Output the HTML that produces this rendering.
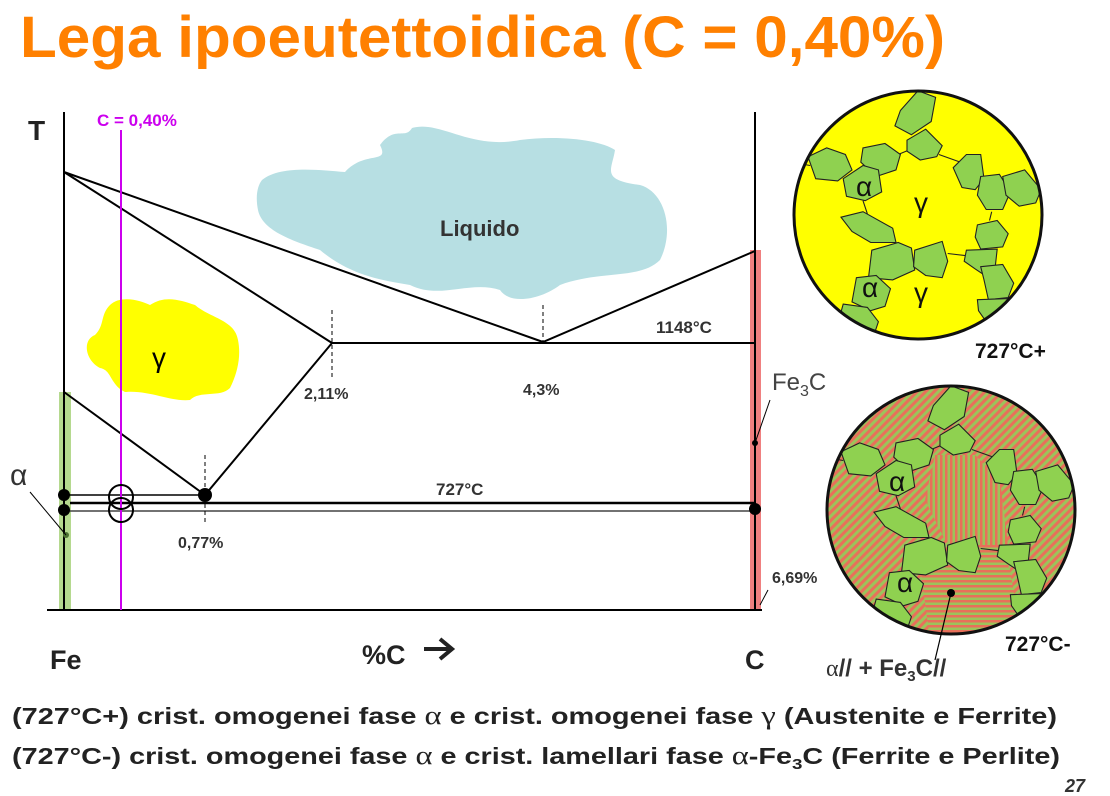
<!DOCTYPE html>
<html><head><meta charset="utf-8"><style>
html,body{margin:0;padding:0;background:#fff}
svg{display:block}
text{font-family:"Liberation Sans",sans-serif}
</style></head><body>
<svg width="1110" height="796" viewBox="0 0 1110 796">
<defs>
<pattern id="diag" width="6" height="6" patternUnits="userSpaceOnUse" patternTransform="rotate(45)">
<rect width="6" height="6" fill="#9cc35a"/><rect width="3" height="6" fill="#e8705a"/></pattern>
<pattern id="vert" width="5" height="5" patternUnits="userSpaceOnUse">
<rect width="5" height="5" fill="#9cc35a"/><rect width="2.5" height="5" fill="#e8705a"/></pattern>
<pattern id="hor" width="5" height="5" patternUnits="userSpaceOnUse">
<rect width="5" height="5" fill="#9cc35a"/><rect width="5" height="2.5" fill="#e8705a"/></pattern>
<clipPath id="cbot"><circle cx="951" cy="510" r="124"/></clipPath>
<clipPath id="ctop"><circle cx="918" cy="215" r="124"/></clipPath>
<g id="grains0" stroke="#222" stroke-width="1" fill="#8fd150">
<line x1="918" y1="85" x2="917" y2="110"/><line x1="790" y1="163" x2="820" y2="168"/>
<line x1="1048" y1="182" x2="1025" y2="186"/><line x1="937" y1="158" x2="965" y2="168"/>
<line x1="900" y1="158" x2="912" y2="153"/><line x1="868" y1="200" x2="872" y2="212"/>
<line x1="945" y1="248" x2="962" y2="250"/><line x1="985" y1="210" x2="983" y2="218"/>
<polygon points="902,118 918,100 934,106 930,128 912,140 897,132"/>
<polygon points="908,145 925,135 940,150 935,160 920,163 908,155"/>
<polygon points="818,160 835,152 852,158 858,172 845,182 825,180"/>
<polygon points="868,152 888,148 902,158 898,172 880,178 866,165"/>
<polygon points="850,180 868,168 882,172 885,192 870,200 853,196"/>
<polygon points="848,215 868,210 895,225 898,238 875,238 858,228"/>
<polygon points="950,170 962,158 975,158 978,180 970,190 958,188"/>
<polygon points="975,178 992,176 1002,192 995,208 980,208 972,195"/>
<polygon points="995,178 1015,172 1030,190 1025,202 1010,205 998,195"/>
<polygon points="972,222 990,218 1000,230 995,242 975,244 970,233"/>
<polygon points="962,245 990,244 988,262 982,270 970,262 960,255"/>
<polygon points="975,260 995,258 1005,275 1000,288 982,290 978,272"/>
<polygon points="972,290 1000,289 1005,302 995,312 980,310 973,300"/>
<polygon points="876,245 900,238 912,243 915,263 895,272 873,270"/>
<polygon points="915,245 940,237 945,255 940,270 925,268 914,260"/>
<polygon points="862,270 880,268 893,280 888,296 875,300 858,292"/>
<polygon points="850,294 872,297 882,310 878,322 858,325 845,312"/>
</g>
<g id="grains"><g transform="translate(918,215) scale(1.1) translate(-918,-213)"><use href="#grains0"/></g></g>
</defs>

<text x="20" y="57" font-size="58" font-weight="bold" fill="#ff8000" textLength="925" lengthAdjust="spacingAndGlyphs">Lega ipoeutettoidica (C = 0,40%)</text>

<path fill="#b7dfe3" d="M262,180 C280,165 320,170 345,172 C365,150 390,165 380,145 C395,125 405,140 412,128 C440,120 470,150 520,140 C560,135 600,140 615,150 C612,170 600,180 640,185 C665,192 675,230 660,260 C640,280 600,270 560,285 C540,300 510,305 500,290 C470,280 440,300 410,285 C380,280 350,275 320,250 C290,240 262,230 258,210 C255,195 258,185 262,180 Z"/>
<text x="440" y="236" font-size="22" font-weight="bold" fill="#333">Liquido</text>
<path fill="#ffff00" d="M110,305 C120,295 140,300 150,305 C165,295 180,300 195,305 C210,318 235,320 238,340 C242,360 235,378 230,388 C220,398 200,390 190,400 C170,402 150,390 125,392 C110,385 112,370 100,368 C85,360 82,340 95,335 C105,325 100,315 110,305 Z"/>
<text x="152" y="367" font-size="28" font-family="Liberation Serif" fill="#000">γ</text>

<rect x="59" y="392" width="12" height="218" fill="#b5d98f"/>
<rect x="750" y="250" width="11" height="360" fill="#f08080"/>

<g stroke="#000" stroke-width="2" fill="none">
<line x1="64" y1="112" x2="64" y2="610"/>
<line x1="755" y1="112" x2="755" y2="610"/>
<line x1="47" y1="610" x2="762" y2="610"/>
<polyline points="64,172 332,343"/>
<polyline points="64,172 543,342 755,251"/>
<line x1="332" y1="343" x2="755" y2="343"/>
<polyline points="64,392 205,495 332,343"/>
<line x1="64" y1="495" x2="205" y2="495" stroke-width="1.5"/>
<line x1="70" y1="503" x2="755" y2="503" stroke-width="2.5"/>
<line x1="64" y1="511" x2="755" y2="511" stroke-width="1.5" stroke="#444"/>
</g>
<g stroke="#000" stroke-width="1" stroke-dasharray="4,3">
<line x1="332" y1="345" x2="332" y2="378"/><line x1="543" y1="305" x2="543" y2="342"/>
<line x1="205" y1="455" x2="205" y2="525"/><line x1="332" y1="310" x2="332" y2="343"/>
</g>
<line x1="121" y1="130" x2="121" y2="610" stroke="#cc00ee" stroke-width="2"/>
<circle cx="121" cy="497" r="12" fill="none" stroke="#000" stroke-width="2"/>
<circle cx="121" cy="510" r="12" fill="none" stroke="#000" stroke-width="2"/>
<g fill="#000">
<circle cx="64" cy="495" r="6"/><circle cx="64" cy="510" r="6"/><circle cx="205" cy="495" r="7"/><circle cx="755" cy="509" r="6"/>
<circle cx="755" cy="443" r="3"/>
</g>
<circle cx="66" cy="535" r="3" fill="#4a7030"/>
<line x1="30" y1="492" x2="66" y2="535" stroke="#000" stroke-width="1"/>
<line x1="755" y1="443" x2="770" y2="400" stroke="#000" stroke-width="1"/>
<line x1="768" y1="590" x2="760" y2="605" stroke="#000" stroke-width="1"/>

<g font-weight="bold" fill="#333">
<text x="28" y="140" font-size="28" fill="#222">T</text>
<text x="97" y="126" font-size="17" fill="#cc00ee">C = 0,40%</text>
<text x="656" y="333" font-size="17">1148°C</text>
<text x="304" y="399" font-size="16">2,11%</text>
<text x="523" y="395" font-size="16">4,3%</text>
<text x="436" y="495" font-size="17">727°C</text>
<text x="178" y="548" font-size="16">0,77%</text>
<text x="772" y="583" font-size="16">6,69%</text>
<text x="50" y="669" font-size="27" fill="#222">Fe</text>
<text x="745" y="669" font-size="27" fill="#222">C</text>
<text x="362" y="664" font-size="27" fill="#222">%C</text>
<path d="M424,649 L450,649 M440,639 L452,649 L440,659" stroke="#222" stroke-width="4" fill="none"/>
<text x="975" y="358" font-size="21" fill="#111">727°C+</text>
<text x="1005" y="651" font-size="21" fill="#111">727°C-</text>
</g>
<text x="10" y="485" font-size="30" font-family="Liberation Serif" fill="#333">α</text>
<text x="772" y="390" font-size="24" fill="#444">Fe<tspan font-size="16" dy="6">3</tspan><tspan dy="-6">C</tspan></text>

<g>
<circle cx="918" cy="215" r="124" fill="#ffff00"/>
<g clip-path="url(#ctop)"><use href="#grains"/></g>
<circle cx="918" cy="215" r="124" fill="none" stroke="#111" stroke-width="3"/>
<g font-family="Liberation Serif" font-size="28" fill="#111">
<text x="856" y="196">α</text><text x="914" y="212">γ</text><text x="862" y="297">α</text><text x="914" y="302">γ</text>
</g>
</g>
<g>
<circle cx="951" cy="510" r="124" fill="url(#diag)"/>
<g clip-path="url(#cbot)">
<polygon points="935,455 975,455 1000,480 1010,560 975,570 945,540 925,500" fill="url(#vert)"/>
<polygon points="920,565 960,545 1000,545 1010,570 1020,630 930,640" fill="url(#hor)"/>
<g transform="translate(33,295)"><use href="#grains"/></g>
</g>
<circle cx="951" cy="510" r="124" fill="none" stroke="#111" stroke-width="3"/>
<g font-family="Liberation Serif" font-size="28" fill="#111">
<text x="889" y="491">α</text><text x="897" y="592">α</text>
</g>
<circle cx="951" cy="593" r="4" fill="#000"/>
<line x1="951" y1="593" x2="935" y2="660" stroke="#000" stroke-width="1.2"/>
</g>
<text x="826" y="676" font-size="24" font-weight="bold" fill="#333"><tspan font-family="Liberation Serif" font-weight="normal">α</tspan>// + Fe<tspan font-size="15" dy="5">3</tspan><tspan dy="-5">C//</tspan></text>

<g font-size="23" font-weight="bold" fill="#222">
<text x="12" y="724" textLength="1045" lengthAdjust="spacingAndGlyphs">(727°C+) crist. omogenei fase <tspan font-family="Liberation Serif" font-weight="normal" font-size="26">α</tspan> e crist. omogenei fase <tspan font-family="Liberation Serif" font-weight="normal" font-size="26">γ</tspan> (Austenite e Ferrite)</text>
<text x="12" y="764" textLength="1048" lengthAdjust="spacingAndGlyphs">(727°C-) crist. omogenei fase <tspan font-family="Liberation Serif" font-weight="normal" font-size="26">α</tspan> e crist. lamellari fase <tspan font-family="Liberation Serif" font-weight="normal" font-size="26">α</tspan>-Fe<tspan font-size="15" dy="5">3</tspan><tspan dy="-5">C (Ferrite e Perlite)</tspan></text>
</g>
<text x="1065" y="792" font-size="18" font-weight="bold" font-style="italic" fill="#333">27</text>
</svg>
</body></html>
